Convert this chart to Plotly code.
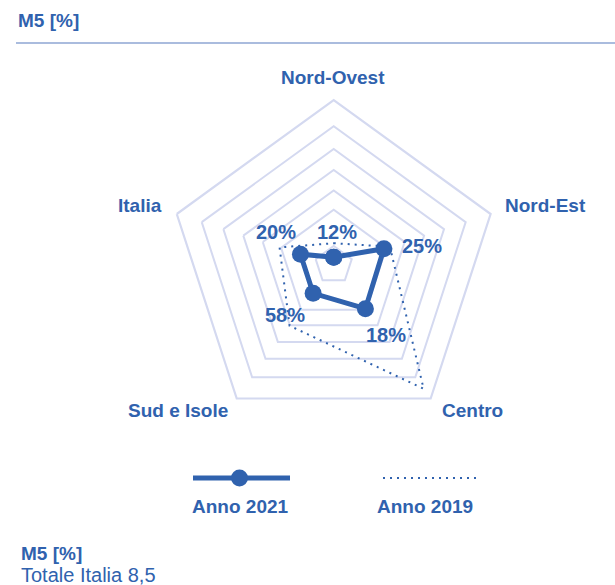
import plotly.graph_objects as go

# ---- data ----
categories = ["Nord-Ovest", "Nord-Est", "Centro", "Sud e Isole", "Italia"]
values_2021 = [0.47, 3.2, 3.27, 2.12, 2.12]
values_2019 = [1.32, 3.58, 9.27, 4.55, 3.45]
point_labels = ["12%", "25%", "18%", "58%", "20%"]
ring_values = [1.15, 3.35, 4.52, 5.76, 7.03, 8.41]
radial_max = 10
series_names = ["Anno 2021", "Anno 2019"]
title_text = "M5 [%]"
footer_title = "M5 [%]"
footer_text = "Totale Italia 8,5"

BLUE = "#3062ae"
GRID = "#d4d9f0"
FONT = "Liberation Sans"
W, H = 615, 585


def px(x):
    return x / W


def py(y):
    return 1 - y / H


def close(v):
    return list(v) + [v[0]]


def text(x, y, t, size=19, bold=True, xanchor="center"):
    fig.add_annotation(x=px(x), y=py(y), xref="paper", yref="paper",
                       xanchor=xanchor, yanchor="middle",
                       text=("<b>%s</b>" % t) if bold else t, showarrow=False,
                       font=dict(family=FONT, size=size, color=BLUE))


fig = go.Figure()
fig.add_trace(go.Scatterpolar(
    r=close(values_2019), theta=close(categories), mode="lines",
    line=dict(color=BLUE, width=2, dash="2px,5px"), name=series_names[1],
    showlegend=False, hoverinfo="skip"))
fig.add_trace(go.Scatterpolar(
    r=close(values_2021), theta=close(categories), mode="lines+markers",
    line=dict(color=BLUE, width=5), marker=dict(size=17, color=BLUE),
    name=series_names[0], showlegend=False))

fig.update_layout(
    width=W, height=H, margin=dict(l=0, r=0, t=0, b=0),
    paper_bgcolor="white", plot_bgcolor="white",
    font=dict(family=FONT, color=BLUE),
    polar=dict(
        domain=dict(x=[px(168.7), px(498.7)], y=[py(430), py(100)]),
        bgcolor="white",
        gridshape="linear",
        radialaxis=dict(range=[0, radial_max], tickvals=ring_values,
                        showticklabels=False, ticks="", showline=False,
                        gridcolor=GRID, gridwidth=2.2),
        angularaxis=dict(direction="clockwise", rotation=90,
                         showgrid=False, ticks="", showline=True,
                         showticklabels=False,
                         linecolor=GRID, linewidth=2.2),
    ),
)

# category labels
cat_pos = [(333, 78), (545, 205), (472, 411), (178, 411), (140, 205)]
for (x, y), c in zip(cat_pos, categories):
    text(x, y, c)

# data point percentage labels
label_pos = [(336.7, 232), (421.7, 246), (386, 335), (285, 315), (276, 232)]
for (x, y), t in zip(label_pos, point_labels):
    text(x, y, t, size=20)

# header
text(16, 21, title_text, size=19, xanchor="left")
fig.add_shape(type="line", xref="paper", yref="paper",
              x0=px(16), x1=1, y0=py(43), y1=py(43),
              line=dict(color="#8ea6d3", width=1.5))

# custom legend
fig.add_shape(type="line", xref="paper", yref="paper",
              x0=px(193), x1=px(290), y0=py(478), y1=py(478),
              line=dict(color=BLUE, width=5))
fig.add_shape(type="circle", xref="paper", yref="paper",
              x0=px(231), x1=px(248), y0=py(486.5), y1=py(469.5),
              fillcolor=BLUE, line=dict(color=BLUE, width=0))
fig.add_shape(type="line", xref="paper", yref="paper",
              x0=px(383), x1=px(478), y0=py(478), y1=py(478),
              line=dict(color=BLUE, width=2, dash="2px,5px"))
text(240, 506, series_names[0])
text(425, 506, series_names[1])

# footer
text(19, 553, footer_title, size=19, xanchor="left")
text(19, 575, footer_text, size=20, bold=False, xanchor="left")

fig.write_html("out.html", config={"displayModeBar": False},
               post_script="document.body.style.margin='0px';")
